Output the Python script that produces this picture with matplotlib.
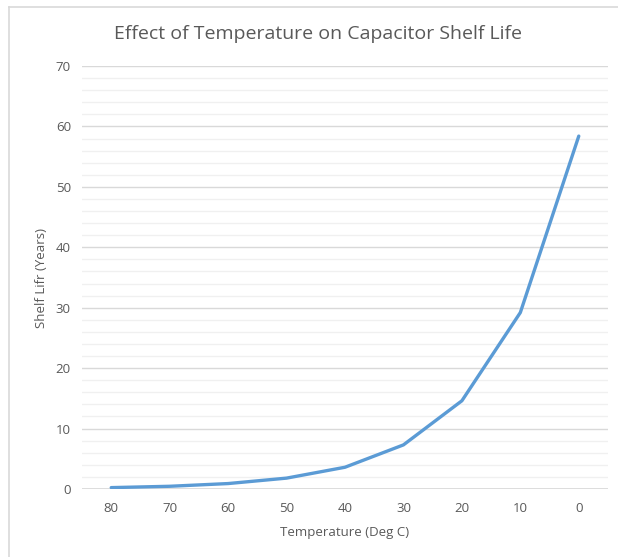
import matplotlib
matplotlib.use("Agg")
import matplotlib.pyplot as plt
from matplotlib.lines import Line2D
from matplotlib.ticker import MultipleLocator

categories = ["80", "70", "60", "50", "40", "30", "20", "10", "0"]
shelf_life = [0.23, 0.45, 0.9, 1.8, 3.6, 7.3, 14.6, 29.2, 58.4]

title = "Effect of Temperature on Capacitor Shelf Life"
xlabel = "Temperature (Deg C)"
ylabel = "Shelf Lifr (Years)"

plt.rcParams['font.family'] = ['Open Sans', 'DejaVu Sans']

W, H = 618, 557
fig = plt.figure(figsize=(W / 100, H / 100), dpi=100)
ax = fig.add_axes([82 / W, 1 - 489 / H, (608 - 82) / W, (489 - 66) / H])

x = list(range(len(categories)))
ax.plot(x, shelf_life, color="#5b9bd5", lw=2.4, solid_capstyle="round", solid_joinstyle="round", zorder=3)

ax.set_xlim(-0.5, len(categories) - 0.5)
ax.set_ylim(0, 70)
ax.yaxis.set_major_locator(MultipleLocator(10))
ax.yaxis.set_minor_locator(MultipleLocator(2))
ax.set_xticks(x)
ax.set_xticklabels(categories)

ax.grid(which="major", axis="y", color="#d9d9d9", lw=1.0, zorder=0)
ax.grid(which="minor", axis="y", color="#f0f0f0", lw=1.0, zorder=0)
for s in ax.spines.values():
    s.set_visible(False)
ax.tick_params(axis="both", which="both", length=0, labelsize=9.5, labelcolor="#595959")
ax.tick_params(axis="y", pad=8)
ax.tick_params(axis="x", pad=9)
ax.axhline(0, color="#d9d9d9", lw=1.2, zorder=1)

ax.set_xlabel(xlabel, fontsize=9.5, color="#595959", labelpad=8)
ax.set_ylabel(ylabel, fontsize=9.5, color="#595959")
ax.yaxis.set_label_coords((48 - 82) / (608 - 82), 0.5)

fig.text(318 / W, 1 - 34 / H, title, fontsize=14, color="#595959", ha="center", va="center")

# chart border (top and left visible)
fig.add_artist(Line2D([8.5 / W, 8.5 / W], [0, 1 - 6.5 / H], color="#d9d9d9", lw=1.2, transform=fig.transFigure))
fig.add_artist(Line2D([8.5 / W, 1], [1 - 6.5 / H, 1 - 6.5 / H], color="#d9d9d9", lw=1.2, transform=fig.transFigure))

fig.savefig("out.png", dpi=100)
